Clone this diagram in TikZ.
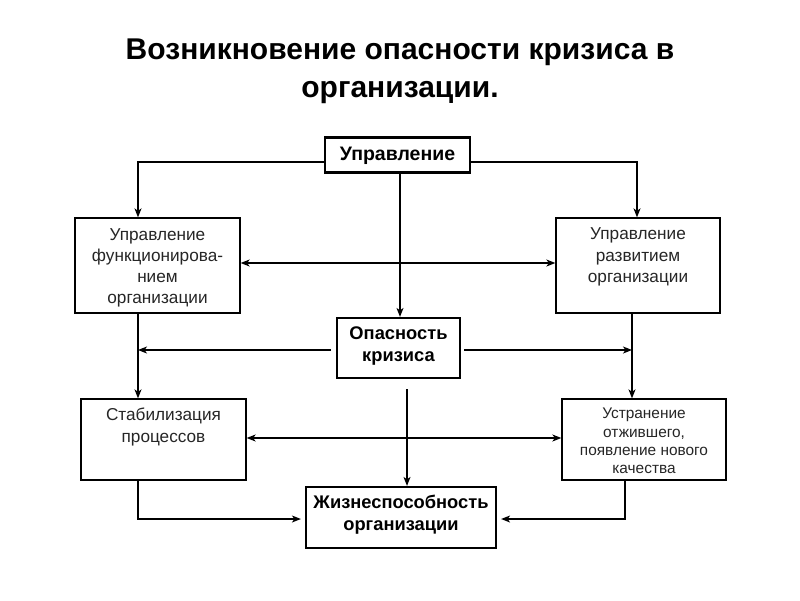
\documentclass[tikz,border=0pt]{standalone}
\usepackage{fontspec}
\setmainfont{Liberation Sans}
\usetikzlibrary{arrows.meta}
\begin{document}
\begin{tikzpicture}[x=1pt,y=-1pt,
  box/.style={draw=black,line width=1.3pt,rectangle,inner sep=0pt},
  bbox/.style={draw=black,line width=2.2pt,rectangle,inner sep=0pt},
  txt/.style={align=center,inner sep=0pt,font=\fontsize{17.2}{21.2}\selectfont,text=black!85},
  btxt/.style={align=center,inner sep=0pt,font=\fontsize{18.3}{22}\selectfont\bfseries},
  stxt/.style={align=center,inner sep=0pt,font=\fontsize{15.4}{18.3}\selectfont,text=black!85},
  arr/.style={line width=1.2pt,-{Stealth[length=9pt,width=7pt,inset=2.5pt]}},
  darr/.style={line width=1.2pt,{Stealth[length=9pt,width=7pt,inset=2.5pt]}-{Stealth[length=9pt,width=7pt,inset=2.5pt]}}]
\useasboundingbox (0,0) rectangle (800,600);
\fill[white] (0,0) rectangle (800,600);
% title
\node[font=\fontsize{30}{38}\selectfont\bfseries,align=center] (title) at (400,71)
  {Возникновение опасности кризиса в\\организации.};
% boxes
\node[bbox,minimum width=145pt,minimum height=35pt] (top) at (397.5,155) {};
\node[btxt,font=\fontsize{19.5}{22}\selectfont\bfseries] (topt) at (397.5,156) {Управление};
\node[box,minimum width=165pt,minimum height=95pt] (lf) at (157.5,265.5) {};
\node[txt] (lft) at (157.5,268) {Управление\\функционирова-\\нием\\организации};
\node[box,minimum width=164pt,minimum height=95pt] (rt) at (638,265.5) {};
\node[txt] (rtt) at (638,257) {Управление\\развитием\\организации};
\node[bbox,minimum width=123pt,minimum height=60pt] (op) at (398.5,348) {};
\node[btxt] (opt) at (398.5,346) {Опасность\\кризиса};
\node[box,minimum width=165pt,minimum height=81pt] (st) at (163.5,439.5) {};
\node[txt] (stt) at (163.5,427) {Стабилизация\\процессов};
\node[box,minimum width=164pt,minimum height=81pt] (us) at (644,439.5) {};
\node[stxt] (ust) at (644,441) {Устранение\\отжившего,\\появление нового\\качества};
\node[bbox,minimum width=190pt,minimum height=61pt] (zh) at (401,517.5) {};
\node[btxt] (zht) at (401,515) {Жизнеспособность\\организации};
% connectors
\coordinate (cl) at (138,350);
\coordinate (cr) at (632,350);
\draw[arr] ([yshift=-7pt]top.west) -| ([xshift=-19.5pt]lf.north);
\draw[arr] ([yshift=-7pt]top.east) -| ([xshift=-1pt]rt.north);
\draw[arr] ([xshift=2.5pt]top.south) -- ([xshift=1.5pt]op.north);
\draw[darr] ([yshift=2.5pt]lf.east) -- ([yshift=2.5pt]rt.west);
\draw[arr] ([xshift=-19.5pt]lf.south) -- ([xshift=-25.5pt]st.north);
\draw[arr] ([xshift=-6pt]rt.south) -- ([xshift=-12pt]us.north);
\draw[arr] ([xshift=-5pt,yshift=-2pt]op.west) -- (cl);
\draw[arr] ([xshift=3pt,yshift=-2pt]op.east) -- (cr);
\draw[arr] ([xshift=8.5pt,yshift=-10pt]op.south) -- ([xshift=6pt]zh.north);
\draw[darr] ([yshift=1.5pt]st.east) -- ([yshift=1.5pt]us.west);
\draw[arr] ([xshift=-25.5pt]st.south) |- ([xshift=-4pt,yshift=-1.5pt]zh.west);
\draw[arr] ([xshift=-19pt]us.south) |- ([xshift=4pt,yshift=-1.5pt]zh.east);
\end{tikzpicture}
\end{document}
